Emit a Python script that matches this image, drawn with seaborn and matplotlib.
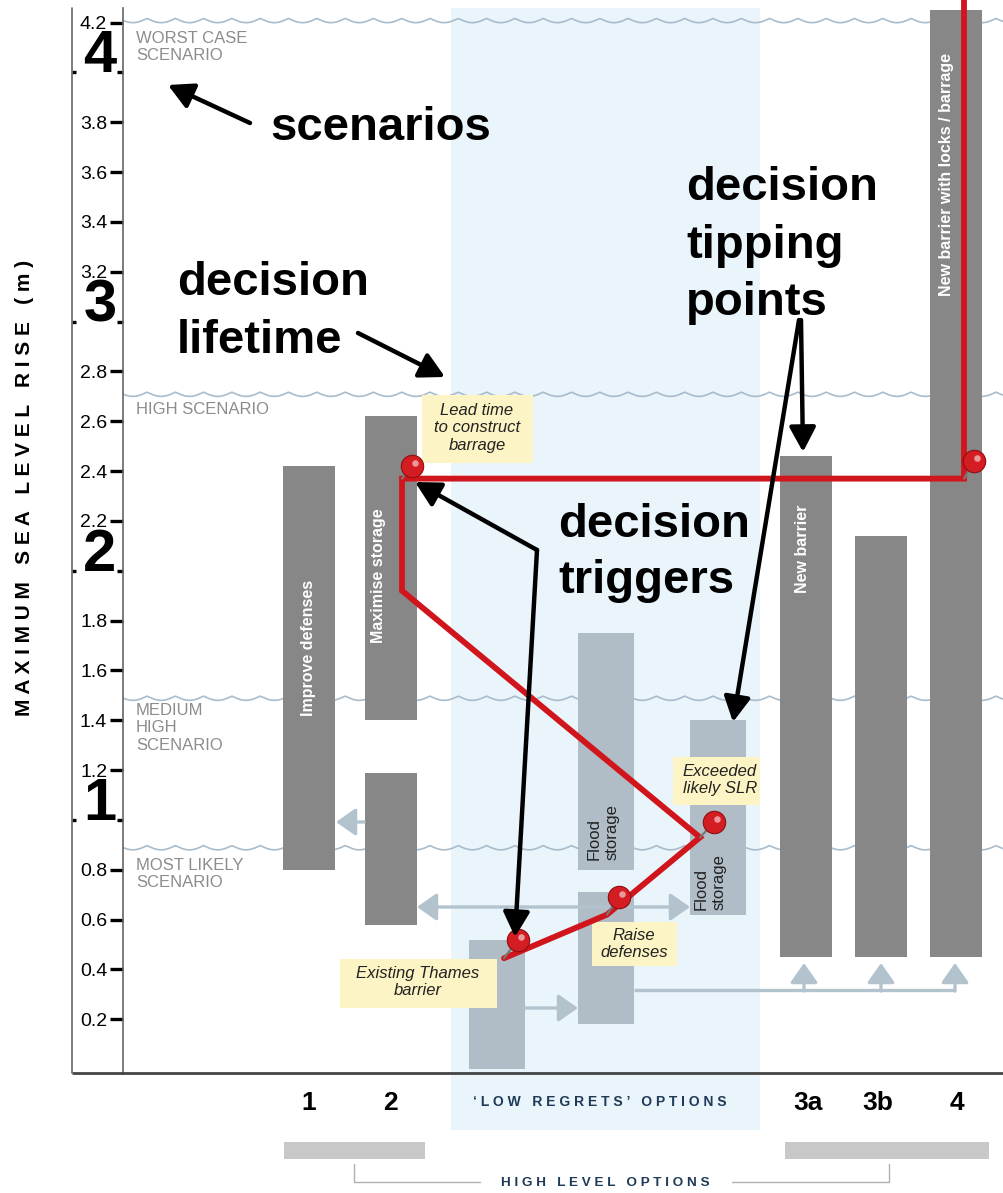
import numpy as np
import matplotlib.pyplot as plt
import seaborn as sns
from matplotlib.patches import Rectangle, FancyArrowPatch

sns.set_theme(style="white")
plt.rcParams['font.family'] = ['Liberation Sans', 'DejaVu Sans']
plt.rcParams['text.color'] = 'black'

# ---- data (sea level rise in metres) ----
high_level_names = ["Improve defenses", "Maximise storage", "", "New barrier", "",
                    "New barrier with locks / barrage"]
high_level_low = [0.80, 1.40, 0.58, 0.45, 0.45, 0.45]
high_level_high = [2.42, 2.62, 1.19, 2.46, 2.14, 4.25]

low_regret_names = ["", "", "Flood\nstorage", "Flood\nstorage"]
low_regret_low = [0.0, 0.18, 0.80, 0.62]
low_regret_high = [0.52, 0.71, 1.75, 1.40]

scenario_names = ["WORST CASE\nSCENARIO", "HIGH SCENARIO", "MEDIUM\nHIGH\nSCENARIO",
                  "MOST LIKELY\nSCENARIO"]
scenario_levels = [4.2, 2.7, 1.48, 0.88]

path_slr = [0.445, 0.62, 0.93, 1.92, 2.37, 2.37, 4.35]
pin_slr = [0.52, 0.69, 0.99, 2.42, 2.44]

note_texts = ["Lead time\nto construct\nbarrage", "Existing Thames\nbarrier",
              "Raise\ndefenses", "Exceeded\nlikely SLR"]
option_labels = ["1", "2", "3a", "3b", "4"]
minor_ticks = [0.2, 0.4, 0.6, 0.8, 1.2, 1.4, 1.6, 1.8, 2.2, 2.4, 2.6, 2.8,
               3.2, 3.4, 3.6, 3.8, 4.2]
big_ticks = [1, 2, 3, 4]

# ---- layout (x in pixel units of the picture) ----
PX_PER_M = 249.15
Y0_PX = 1069.1


def m(px):
    return (Y0_PX - px) / PX_PER_M


high_x = [309, 391, 391, 806, 881, 956.5]
high_label_dx = [0, -12, 0, -3, 0, -10]
high_label_py = [648, 576, 0, 549, 0, 175]
low_x = [497, 606, 606, 718]
low_label_pos = [None, None, (603, 832), (710, 882)]
path_x = [504, 607, 700, 402, 402, 964, 964]
pin_x = [518, 619, 714, 412, 974]
pin_stem = [0, 1, 2, 4, 5]
scen_top_px = [31, 402, 703, 858]
note_boxes = [(422, 533, 395, 463), (340, 497, 959, 1008), (592, 677, 922, 966), (673, 760, 757, 805)]
note_centers = [(477, 428), (418, 982), (634, 944), (720, 780)]
option_x = [309, 390, 808, 878, 957]

GREY = '#878787'
LIGHT = '#b0bdc7'
ARROW = '#b3c3ce'
RED = '#d0161c'

fig = plt.figure(figsize=(10.04, 11.93), dpi=100)
ax = fig.add_axes([123 / 1004, 120 / 1193, 881 / 1004, 1073 / 1193])
ymin, ymax = m(1073), m(0)
ax.set_xlim(123, 1004)
ax.set_ylim(ymin, ymax)

# low regrets zone
ax.add_patch(Rectangle((451, m(1130)), 309, m(8) - m(1130), fc='#e9f4fb', ec='none',
                       zorder=0, clip_on=False))

# scenario wave lines
xs = np.linspace(123, 1004, 3000)
for name, lev, top in zip(scenario_names, scenario_levels, scen_top_px):
    ys = lev + 0.017 * (1 - np.abs(np.sin(np.pi * (xs - 147) / 28.3)))
    ax.plot(xs, ys, color='#a9bccb', lw=1.2, zorder=1)
    ax.text(136, m(top), name, va='top', ha='left', fontsize=12, color='#8c8c8c',
            linespacing=1.2, zorder=1)

# option bars
ax.bar(high_x, np.subtract(high_level_high, high_level_low), bottom=high_level_low,
       width=52, color=GREY, linewidth=0, zorder=2)
ax.bar(low_x, np.subtract(low_regret_high, low_regret_low), bottom=low_regret_low,
       width=56, color=LIGHT, linewidth=0, zorder=2)

for name, x, dx, py in zip(high_level_names, high_x, high_label_dx, high_label_py):
    if name:
        ax.text(x + dx, m(py), name, rotation=90, ha='center', va='center', color='white',
                fontsize=11.5, fontweight='bold', zorder=3)
for name, pos in zip(low_regret_names, low_label_pos):
    if name:
        ax.text(pos[0], m(pos[1]), name, rotation=90, ha='center', va='center',
                multialignment='left', fontsize=12, color='#222222', zorder=3)


def arrow(p0, p1, color, lw, style, scale=20):
    a = FancyArrowPatch(p0, p1, arrowstyle=style, color=color, lw=lw, mutation_scale=scale,
                        shrinkA=0, shrinkB=0, zorder=2.5, clip_on=False)
    ax.add_patch(a)
    return a


# transfer arrows between options
lstyle = '-|>,head_length=0.6,head_width=0.42'
arrow((364, m(822)), (336, m(822)), ARROW, 2.4, lstyle)
arrow((417, m(907)), (690, m(907)), ARROW, 2.4, '<|-|>,head_length=0.6,head_width=0.42')
arrow((525, m(1008)), (578, m(1008)), ARROW, 2.4, lstyle)
ax.plot([634, 955], [m(990), m(990)], color=ARROW, lw=2.4, zorder=2.5, solid_capstyle='butt')
for x in [804, 881, 955]:
    arrow((x, m(991)), (x, m(963)), ARROW, 2.4, lstyle)

# note boxes
for txt, (x0, x1, yt, yb), (cx, cy) in zip(note_texts, note_boxes, note_centers):
    ax.add_patch(Rectangle((x0, m(yb)), x1 - x0, m(yt) - m(yb), fc='#fcf4c4', ec='none',
                           zorder=4, clip_on=False))
    ax.text(cx, m(cy), txt, ha='center', va='center', fontsize=12, style='italic',
            color='#222222', linespacing=1.2, zorder=4.5)

# adaptation pathway
sns.lineplot(x=path_x, y=path_slr, sort=False, estimator=None, color=RED, lw=4.2,
             ax=ax, zorder=5)
ax.lines[-1].set_solid_joinstyle('miter')
for i, (px_, sy) in enumerate(zip(pin_x, pin_slr)):
    k = pin_stem[i]
    ax.plot([path_x[k], px_], [path_slr[k], sy], color='#777777', lw=1.6, zorder=5.5)
sns.scatterplot(x=pin_x, y=pin_slr, s=260, color='#d41d22', edgecolor='#8f0d10',
                linewidth=0.8, ax=ax, zorder=6)
ax.scatter(np.add(pin_x, 3), np.add(pin_slr, 0.012), s=22, color='white', alpha=0.55,
           linewidth=0, zorder=6.5)

# axes styling
for s in ['top', 'right']:
    ax.spines[s].set_visible(False)
ax.spines['left'].set_color('#666666')
ax.spines['left'].set_linewidth(1.2)
ax.spines['left'].set_bounds(ymin, m(8))
ax.spines['bottom'].set_color('#444444')
ax.spines['bottom'].set_linewidth(2)
ax.plot([72, 123], [ymin, ymin], color='#444444', lw=2, clip_on=False, zorder=3,
        solid_capstyle='butt')
ax.plot([72, 72], [ymin, m(8)], color='#666666', lw=1.2, clip_on=False, zorder=3)
ax.set_xticks([])
ax.set_yticks(minor_ticks)
ax.set_yticklabels([f'{v:.1f}' for v in minor_ticks])
ax.set_yticks(big_ticks, minor=True)
ax.tick_params(axis='y', which='major', left=True, length=9.4, width=2.4, pad=2,
               labelsize=14, color='black', labelcolor='black')
ax.tick_params(axis='y', which='minor', left=True, length=4.3, width=2.4, color='black')
ax.grid(False)
for v in big_ticks:
    ax.plot([72, 76], [v, v], color='black', lw=2.4, clip_on=False, solid_capstyle='butt')
    ax.text(100, v, str(v), ha='center', va='baseline', fontsize=43, fontweight='bold',
            color='black')

fig.text(25 / 1004, 1 - 488 / 1193,
         "M A X I M U M   S E A   L E V E L   R I S E   ( m )",
         rotation=90, ha='center', va='center', fontsize=15, fontweight='bold', color='black')

# bottom labels
for lbl, x in zip(option_labels, option_x):
    ax.text(x, m(1103), lbl, ha='center', va='center', fontsize=19, fontweight='bold',
            color='black', clip_on=False)
ax.text(600, m(1102), "‘ L O W   R E G R E T S ’   O P T I O N S", ha='center', va='center',
        fontsize=10, fontweight='bold', color='#1f3a57')
for x0, x1 in [(284, 425), (785, 989)]:
    ax.add_patch(Rectangle((x0, m(1159)), x1 - x0, m(1142) - m(1159), fc='#c8c8c8',
                           ec='none', clip_on=False))
ax.plot([354, 354, 480], [m(1164), m(1182), m(1182)], color='#b0b0b0', lw=1, clip_on=False)
ax.plot([732, 889, 889], [m(1182), m(1182), m(1164)], color='#b0b0b0', lw=1, clip_on=False)
ax.text(605, m(1183), "H I G H   L E V E L   O P T I O N S", ha='center', va='center',
        fontsize=9.7, fontweight='bold', color='#1f3a57')

# callouts
callouts = [("scenarios", 270, 140), ("decision", 177, 295), ("lifetime", 177, 353),
            ("decision", 686, 200), ("tipping", 686, 258), ("points", 686, 315),
            ("decision", 558, 537), ("triggers", 558, 593)]
for txt, x, py in callouts:
    ax.text(x, m(py), txt, ha='left', va='baseline', fontsize=34, fontweight='bold',
            color='black', zorder=7)
bstyle = '-|>,head_length=0.75,head_width=0.4'
for p0, p1 in [((250, 123), (168, 85)), ((358, 333), (445, 377)),
               ((537, 550), (415, 482)), ((537, 550), (515, 937)),
               ((801, 320), (803, 452)), ((799, 320), (733, 722))]:
    a = arrow((p0[0], m(p0[1])), (p1[0], m(p1[1])), 'black', 3.2, bstyle, scale=20)
    a.set_zorder(7)

fig.savefig('out.png', dpi=100)
